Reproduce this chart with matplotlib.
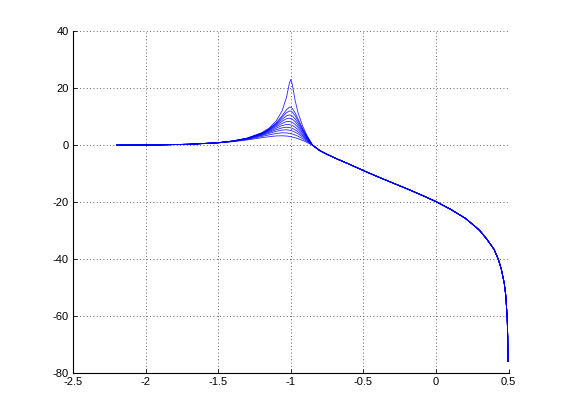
import numpy as np
import matplotlib
matplotlib.use('Agg')
import matplotlib.pyplot as plt

plt.rcParams['font.family'] = ['Liberation Sans', 'DejaVu Sans']
plt.rcParams['axes.unicode_minus'] = False

# frequency points (log10 w) for the resonant part, one row of gains (dB) per curve
headX = [-2.2, -1.9, -1.7, -1.5, -1.4, -1.3, -1.2, -1.15, -1.1, -1.06,
         -1.03, -1.01, -1.0, -0.99, -0.97, -0.95, -0.92, -0.89, -0.85]

headGains = [
    [0.03, 0.14, 0.35, 0.91, 1.50, 2.51, 4.39, 6.01, 8.58, 12.11, 16.82, 21.76, 23.12, 21.37, 15.63, 11.38, 6.91, 3.56, 0],
    [0.03, 0.14, 0.35, 0.91, 1.49, 2.47, 4.27, 5.74, 7.91, 10.39, 12.49, 13.36, 13.36, 12.98, 11.34, 9.18, 6.01, 3.21, 0],
    [0.03, 0.14, 0.35, 0.91, 1.48, 2.46, 4.21, 5.63, 7.66, 9.83, 11.47, 12.04, 11.99, 11.66, 10.35, 8.53, 5.70, 3.08, 0],
    [0.03, 0.14, 0.35, 0.91, 1.47, 2.43, 4.14, 5.47, 7.32, 9.13, 10.33, 10.66, 10.57, 10.30, 9.24, 7.75, 5.29, 2.90, 0],
    [0.03, 0.14, 0.35, 0.90, 1.46, 2.41, 4.05, 5.31, 6.96, 8.46, 9.34, 9.51, 9.40, 9.16, 8.28, 7.03, 4.89, 2.71, 0],
    [0.03, 0.14, 0.35, 0.90, 1.45, 2.37, 3.93, 5.09, 6.52, 7.71, 8.31, 8.36, 8.24, 8.02, 7.29, 6.26, 4.43, 2.49, 0],
    [0.03, 0.14, 0.35, 0.89, 1.43, 2.32, 3.79, 4.82, 6.02, 6.92, 7.29, 7.25, 7.13, 6.93, 6.32, 5.47, 3.93, 2.24, 0],
    [0.03, 0.14, 0.35, 0.88, 1.41, 2.26, 3.61, 4.51, 5.48, 6.12, 6.32, 6.23, 6.11, 5.93, 5.41, 4.71, 3.43, 1.98, 0],
    [0.03, 0.14, 0.35, 0.87, 1.39, 2.19, 3.41, 4.16, 4.92, 5.34, 5.42, 5.30, 5.18, 5.02, 4.59, 4.01, 2.94, 1.72, 0],
    [0.03, 0.14, 0.34, 0.85, 1.34, 2.07, 3.08, 3.65, 4.15, 4.37, 4.33, 4.20, 4.09, 3.95, 3.60, 3.16, 2.34, 1.39, 0],
    [0.03, 0.14, 0.34, 0.82, 1.26, 1.88, 2.65, 3.01, 3.28, 3.33, 3.24, 3.10, 3.01, 2.90, 2.64, 2.31, 1.73, 1.04, 0],
]

# common roll-off, same for every curve
tailX = [-0.8, -0.75, -0.7, -0.65, -0.6, -0.5, -0.4, -0.3, -0.2, -0.1, 0.0,
         0.1, 0.2, 0.25, 0.3, 0.35, 0.4, 0.43, 0.45, 0.47, 0.48, 0.49, 0.494, 0.496]
tailGain = [-1.9, -3.2, -4.4, -5.5, -6.6, -8.9, -11.1, -13.2, -15.3, -17.5, -19.8,
            -22.5, -25.6, -27.7, -29.9, -33.0, -36.6, -40.2, -43.6, -48.5, -52.6, -60.3, -67.5, -76.0]

xTicks = [-2.5, -2, -1.5, -1, -0.5, 0, 0.5]
yTicks = [-80, -60, -40, -20, 0, 20, 40]

fig = plt.figure(figsize=(5.62, 4.19), dpi=100)
ax = fig.add_axes([0.13, 0.11, 0.775, 0.815])

for g in headGains:
    ax.plot(headX + tailX, g + tailGain, color='#0000ff', lw=0.6, alpha=0.85)

ax.set_xlim([-2.5, 0.5])
ax.set_ylim([-80, 40])
ax.set_xticks(xTicks)
ax.set_yticks(yTicks)
ax.set_xticklabels(['%g' % t for t in xTicks])
ax.set_yticklabels(['%g' % t for t in yTicks])
ax.grid(True, linestyle=(0, (1, 3)), color='#333333', lw=0.6)
ax.spines['top'].set_visible(False)
ax.spines['right'].set_visible(False)
ax.spines['left'].set_linewidth(0.8)
ax.spines['bottom'].set_linewidth(0.8)
ax.tick_params(direction='in', length=3, width=0.6, labelsize=8, pad=3)

fig.savefig('out.png', dpi=100)
